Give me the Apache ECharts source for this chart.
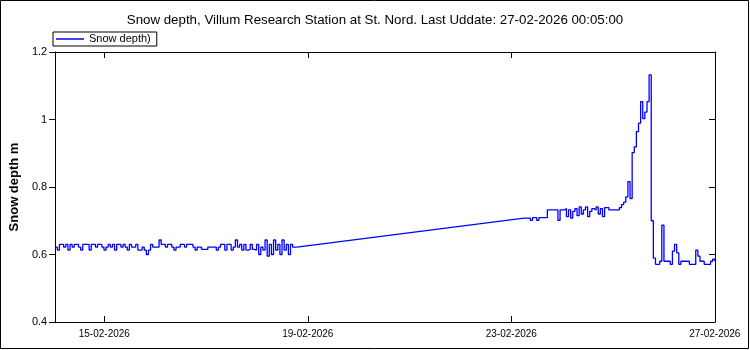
<!DOCTYPE html>
<html>
<head>
<meta charset="utf-8">
<script src="https://cdn.jsdelivr.net/npm/echarts@6/dist/echarts.min.js"></script>
<style>html,body{margin:0;padding:0;background:#fff}#c{width:750px;height:350px}</style>
</head>
<body>
<div id="c"></div>
<script>
// ---- data ----
const titleText = 'Snow depth, Villum Research Station at St. Nord. Last Uddate: 27-02-2026 00:05:00';
const seriesName = 'Snow depth)';
const yAxisName = 'Snow depth m';
const axisMinTime = '2026-02-14T00:50:00Z';
const axisMaxTime = '2026-02-27T00:05:00Z';
const xTickDates = ['2026-02-15T00:00:00Z', '2026-02-19T00:00:00Z', '2026-02-23T00:00:00Z', '2026-02-27T00:00:00Z'];
const yTicks = [0.4, 0.6, 0.8, 1.0, 1.2];

// hourly readings, segment 1 (14-02 00:50 .. 18-02 18:50)
const seg1Start = '2026-02-14T00:50:00Z';
const seg1Depth = [
  0.622,0.613,0.630,0.630,0.622,0.630,0.613,0.630,0.622,0.630,
  0.630,0.622,0.613,0.630,0.630,0.630,0.613,0.630,0.630,0.622,
  0.630,0.630,0.622,0.613,0.622,0.630,0.622,0.630,0.613,0.630,
  0.630,0.622,0.630,0.622,0.613,0.630,0.622,0.622,0.630,0.613,
  0.613,0.622,0.613,0.600,0.613,0.630,0.622,0.622,0.622,0.643,
  0.630,0.630,0.622,0.630,0.630,0.622,0.613,0.622,0.622,0.630,
  0.630,0.622,0.630,0.630,0.630,0.622,0.613,0.622,0.622,0.615,
  0.615,0.615,0.622,0.622,0.622,0.622,0.613,0.622,0.630,0.630,
  0.613,0.630,0.630,0.613,0.622,0.643,0.622,0.630,0.613,0.630,
  0.613,0.615,0.630,0.615,0.613,0.630,0.600,0.622,0.613,0.643,
  0.595,0.630,0.600,0.643,0.613,0.630,0.600,0.643,0.613,0.630,
  0.600,0.630,0.622,0.622,0.622
];

// hourly readings, segment 2 (23-02 06:00 .. 27-02 00:00)
const seg2Start = '2026-02-23T06:00:00Z';
const seg2Depth = [
  0.708,0.708,0.708,0.701,0.709,0.709,0.701,0.709,0.709,0.709,
  0.709,0.732,0.732,0.732,0.732,0.732,0.701,0.732,0.732,0.736,
  0.712,0.732,0.708,0.728,0.736,0.715,0.741,0.720,0.732,0.741,
  0.712,0.728,0.736,0.732,0.741,0.720,0.736,0.712,0.739,0.739,
  0.732,0.732,0.732,0.732,0.732,0.739,0.748,0.755,0.771,0.816,
  0.766,0.902,0.919,0.964,0.989,1.053,1.003,1.022,1.053,1.132,
  0.700,0.589,0.571,0.571,0.580,0.687,0.580,0.580,0.580,0.571,
  0.610,0.630,0.605,0.571,0.580,0.580,0.580,0.580,0.571,0.571,
  0.571,0.613,0.595,0.580,0.580,0.571,0.571,0.571,0.580,0.586,
  0.580
];

// ---- build ----
const HOUR = 3600 * 1000;
function toSeries(start, vals) {
  const t0 = Date.parse(start);
  return vals.map((v, i) => [t0 + i * HOUR, v]);
}
const s1 = toSeries(seg1Start, seg1Depth);
const s2 = toSeries(seg2Start, seg2Depth);
const gap = [s1[s1.length - 1], s2[0]];
const xTickVals = xTickDates.map(d => Date.parse(d));
const pad = n => (n < 10 ? '0' : '') + n;
const fmtDate = v => { const d = new Date(v); return pad(d.getUTCDate()) + '-' + pad(d.getUTCMonth() + 1) + '-' + d.getUTCFullYear(); };

const FONT = 'Liberation Sans, Arial, sans-serif';
const BLUE = '#0000ff';
const chart = echarts.init(document.getElementById('c'), null, { renderer: 'canvas' });
const lineSeries = (data, step) => ({
  name: seriesName, type: 'line', data: data, step: step, symbol: 'none', showSymbol: false,
  lineStyle: { color: BLUE, width: 1.3 }, itemStyle: { color: BLUE }, animation: false, xAxisIndex: 0, yAxisIndex: 0
});
const xMin = Date.parse(axisMinTime), xMax = Date.parse(axisMaxTime);

chart.setOption({
  animation: false,
  backgroundColor: '#ffffff',
  title: {
    text: titleText, left: 'center', top: 9,
    textStyle: { fontFamily: FONT, fontSize: 13.3, fontWeight: 'normal', color: '#000' }
  },
  legend: {
    left: 53, top: 32, orient: 'horizontal',
    data: [{ name: seriesName, icon: 'rect' }],
    borderColor: '#000', borderWidth: 1, borderRadius: 0,
    padding: [1, 6, 1, 3], itemWidth: 28, itemHeight: 1.5, itemGap: 5,
    textStyle: { fontFamily: FONT, fontSize: 11, color: '#000', lineHeight: 12 }
  },
  grid: { left: 53, right: 35, top: 52, bottom: 28, containLabel: false },
  xAxis: [{
    type: 'value', position: 'bottom', min: xMin, max: xMax, scale: true,
    splitLine: { show: false },
    axisLine: { show: true, onZero: false, lineStyle: { color: '#000', width: 1 } },
    axisTick: { show: true, inside: true, length: 6, customValues: xTickVals, lineStyle: { color: '#000' } },
    axisLabel: { show: true, customValues: xTickVals, formatter: fmtDate, margin: 7,
      fontFamily: FONT, fontSize: 10, color: '#000', hideOverlap: false }
  }, {
    type: 'value', position: 'top', min: xMin, max: xMax, scale: true,
    splitLine: { show: false },
    axisLine: { show: true, onZero: false, lineStyle: { color: '#000', width: 1 } },
    axisTick: { show: true, inside: true, length: 6, customValues: xTickVals, lineStyle: { color: '#000' } },
    axisLabel: { show: false }
  }],
  yAxis: [{
    type: 'value', position: 'left', min: yTicks[0], max: yTicks[yTicks.length - 1], interval: 0.2,
    name: yAxisName, nameLocation: 'middle', nameGap: 29,
    nameTextStyle: { fontFamily: FONT, fontSize: 13, fontWeight: 'bold', color: '#000' },
    splitLine: { show: false },
    axisLine: { show: true, onZero: false, lineStyle: { color: '#000', width: 1 } },
    axisTick: { show: true, inside: false, length: 6, lineStyle: { color: '#000' } },
    axisLabel: { fontFamily: FONT, fontSize: 11, color: '#000', margin: 8 }
  }, {
    type: 'value', position: 'right', min: yTicks[0], max: yTicks[yTicks.length - 1], interval: 0.2,
    splitLine: { show: false },
    axisLine: { show: true, onZero: false, lineStyle: { color: '#000', width: 1 } },
    axisTick: { show: true, inside: true, length: 6, lineStyle: { color: '#000' } },
    axisLabel: { show: false }
  }],
  series: [lineSeries(s1, 'end'), lineSeries(gap, false), lineSeries(s2, 'end')],
  graphic: [{
    type: 'rect', silent: true, z: 100,
    shape: { x: 0.5, y: 0.5, width: 748, height: 348 },
    style: { fill: 'none', stroke: '#000', lineWidth: 1 }
  }]
});
</script>
</body>
</html>
